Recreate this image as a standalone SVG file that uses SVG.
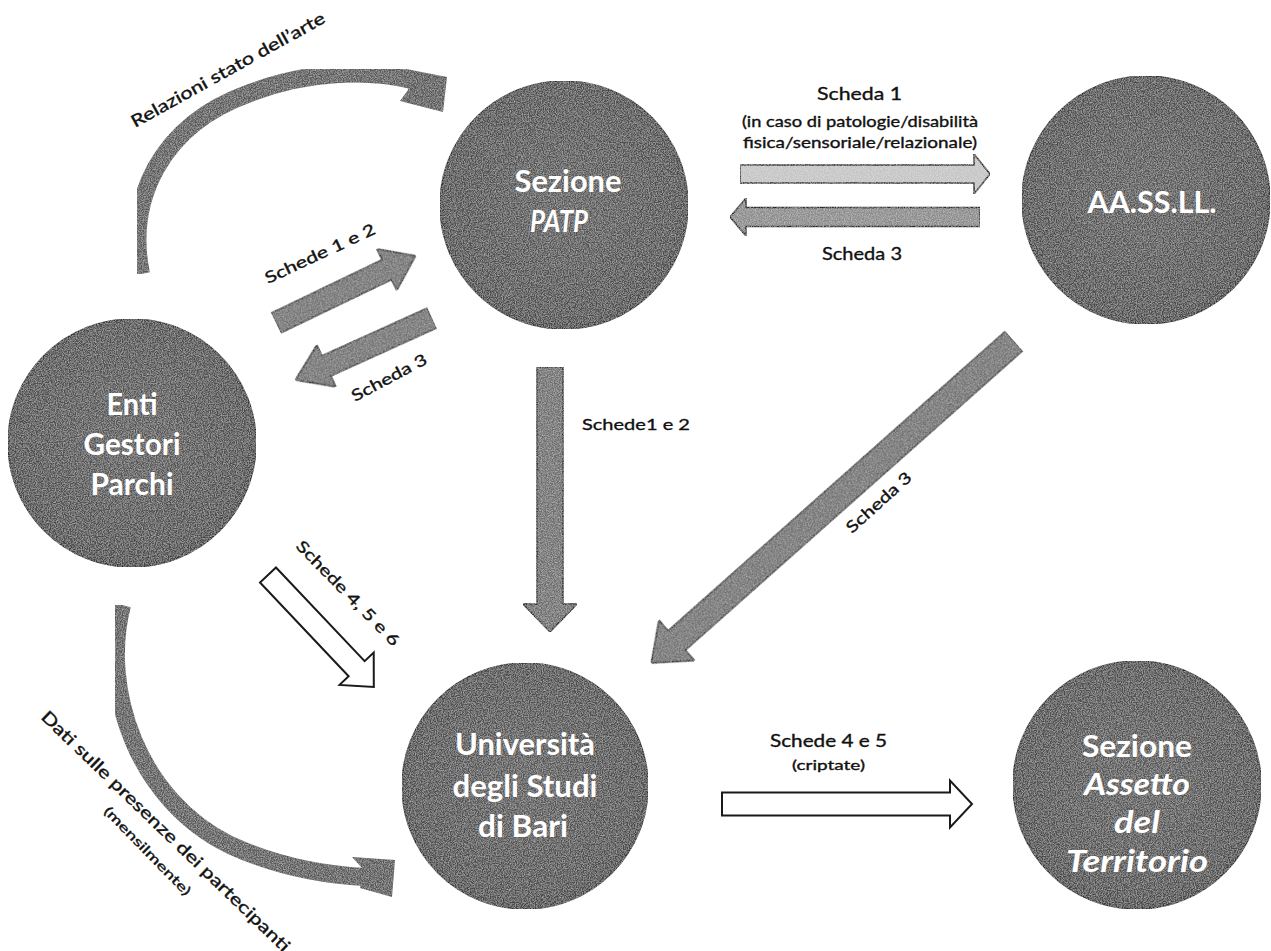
<svg xmlns="http://www.w3.org/2000/svg" width="1271" height="951" viewBox="0 0 1271 951">
<style>
.lbl{font-family:Lato,"Liberation Sans",sans-serif;fill:#111;stroke:#111;stroke-width:0.35;}
.node-txt{font-family:Lato,"Liberation Sans",sans-serif;font-weight:bold;fill:#fff;font-size:31px;text-anchor:middle;}
.it{font-style:italic;}
.circ{fill:url(#cg);stroke:#333;stroke-width:1.5;}
.dark{fill:#6d6d6d;stroke:#2a2a2a;stroke-width:1.6;}
.mid{fill:#8a8a8a;stroke:#2a2a2a;stroke-width:1.6;}
.light{fill:#c4c4c4;stroke:#2a2a2a;stroke-width:1.6;}
.white{fill:#fff;stroke:#1a1a1a;stroke-width:2;}
.cshaft{fill:none;stroke:#585858;stroke-width:18;}
.chead{fill:#555;}
</style>
<defs>
<radialGradient id="cg" cx="50%" cy="48%" r="55%">
<stop offset="0" stop-color="#585858"/>
<stop offset="0.85" stop-color="#4c4c4c"/>
<stop offset="1" stop-color="#3c3c3c"/>
</radialGradient>
<filter id="grain" x="0" y="0" width="100%" height="100%">
<feTurbulence type="fractalNoise" baseFrequency="0.85" numOctaves="2" seed="4" result="n"/>
<feColorMatrix in="n" type="matrix" values="0 0 0 0 1 0 0 0 0 1 0 0 0 0 1 0.7 0 0 0 -0.25" result="s"/>
<feComposite in="s" in2="SourceGraphic" operator="in" result="s2"/>
<feMerge><feMergeNode in="SourceGraphic"/><feMergeNode in="s2"/></feMerge>
</filter>
</defs>
<rect width="1271" height="951" fill="#fff"/>

<g id="connectors">
<g filter="url(#grain)">
<path class="cshaft" d="M141,274 C126,200 160,125 250,93 C310,70 370,70 412,80"/>
<polygon class="chead" points="406,69 447,77 443,112 400,101 408,90"/>
</g>
<g filter="url(#grain)">
<path class="cshaft" d="M122,605 C100,690 138,800 230,845 C280,868 325,875 365,877"/>
<polygon class="chead" points="352,857 395,860 392,897 360,888 362,868"/>
</g>
<g transform="translate(276,323) rotate(-25.7)"><polygon class="dark" filter="url(#grain)" points="0,-11 123,-11 123,-23 155,0 123,23 123,11 0,11"/></g>
<g transform="translate(432,318) rotate(155.6)"><polygon class="dark" filter="url(#grain)" points="0,-11 116,-11 116,-23 150,0 116,23 116,11 0,11"/></g>
<g transform="translate(550,367) rotate(90)"><polygon class="dark" filter="url(#grain)" points="0,-13 237,-13 237,-27 265,0 237,27 237,13 0,13"/></g>
<g transform="translate(1014,341) rotate(138.4)"><polygon class="dark" filter="url(#grain)" points="0,-13 451,-13 451,-27 485,0 451,27 451,13 0,13"/></g>
<g transform="translate(740,174)"><polygon class="light" filter="url(#grain)" points="0,-9 234,-9 234,-20 250,0 234,20 234,9 0,9"/></g>
<g transform="translate(980,217) rotate(180)"><polygon class="mid" filter="url(#grain)" points="0,-9.5 234,-9.5 234,-19 250,0 234,19 234,9.5 0,9.5"/></g>
<g transform="translate(268,575) rotate(46.6)"><polygon class="white" points="0,-11 129,-11 129,-23.5 154,0 129,23.5 129,11 0,11"/></g>
<g transform="translate(722,804)"><polygon class="white" points="0,-11.5 228,-11.5 228,-23.5 250,0 228,23.5 228,11.5 0,11.5"/></g>

<text class="lbl" font-size="17" transform="translate(135,128) rotate(-29)" textLength="219" lengthAdjust="spacingAndGlyphs">Relazioni stato dell’arte</text>
<text class="lbl" font-size="16" transform="translate(268,284) rotate(-25)" textLength="120" lengthAdjust="spacingAndGlyphs">Schede 1 e 2</text>
<text class="lbl" font-size="16" transform="translate(355,402) rotate(-28)" textLength="83" lengthAdjust="spacingAndGlyphs">Scheda 3</text>
<text class="lbl" font-size="16" x="582" y="430" textLength="108" lengthAdjust="spacingAndGlyphs">Schede1 e 2</text>
<text class="lbl" font-size="16" transform="translate(852,534) rotate(-42)" textLength="82" lengthAdjust="spacingAndGlyphs">Scheda 3</text>
<text class="lbl" font-size="18" x="817" y="100" textLength="85" lengthAdjust="spacingAndGlyphs">Scheda 1</text>
<text class="lbl" font-size="15" x="742" y="127" textLength="236" lengthAdjust="spacingAndGlyphs">(in caso di patologie/disabilità</text>
<text class="lbl" font-size="15" x="743" y="148" textLength="234" lengthAdjust="spacingAndGlyphs">fisica/sensoriale/relazionale)</text>
<text class="lbl" font-size="17" x="822" y="260" textLength="80" lengthAdjust="spacingAndGlyphs">Scheda 3</text>
<text class="lbl" font-size="16" transform="translate(295,547) rotate(45.6)" textLength="140" lengthAdjust="spacingAndGlyphs">Schede 4, 5 e 6</text>
<text class="lbl" font-size="17" x="770" y="747" textLength="117" lengthAdjust="spacingAndGlyphs">Schede 4 e 5</text>
<text class="lbl" font-size="14" x="792" y="770" textLength="73" lengthAdjust="spacingAndGlyphs">(criptate)</text>
<text class="lbl" font-size="17" transform="translate(40,718) rotate(44)" textLength="338" lengthAdjust="spacingAndGlyphs">Dati sulle presenze dei partecipanti</text>
<text class="lbl" font-size="13" transform="translate(103,812) rotate(45.7)" textLength="118" lengthAdjust="spacingAndGlyphs">(mensilmente)</text>
</g>

<g id="node-patp">
<circle class="circ" filter="url(#grain)" cx="564" cy="205" r="124"/>
<text class="node-txt" x="568" y="192" textLength="107" lengthAdjust="spacingAndGlyphs">Sezione</text>
<text class="node-txt it" x="559" y="232" textLength="58" lengthAdjust="spacingAndGlyphs">PATP</text>
</g>
<g id="node-asl">
<circle class="circ" filter="url(#grain)" cx="1146" cy="200" r="124"/>
<text class="node-txt" x="1152" y="213" textLength="129" lengthAdjust="spacingAndGlyphs">AA.SS.LL.</text>
</g>
<g id="node-enti">
<circle class="circ" filter="url(#grain)" cx="132" cy="443" r="124"/>
<text class="node-txt" x="132" y="415" textLength="51" lengthAdjust="spacingAndGlyphs">Enti</text>
<text class="node-txt" x="132" y="455" textLength="97" lengthAdjust="spacingAndGlyphs">Gestori</text>
<text class="node-txt" x="132" y="495" textLength="83" lengthAdjust="spacingAndGlyphs">Parchi</text>
</g>
<g id="node-uniba">
<circle class="circ" filter="url(#grain)" cx="525" cy="786" r="123"/>
<text class="node-txt" x="525" y="755" textLength="140" lengthAdjust="spacingAndGlyphs">Università</text>
<text class="node-txt" x="525" y="797" textLength="145" lengthAdjust="spacingAndGlyphs">degli Studi</text>
<text class="node-txt" x="523" y="837" textLength="90" lengthAdjust="spacingAndGlyphs">di Bari</text>
</g>
<g id="node-assetto">
<circle class="circ" filter="url(#grain)" cx="1137" cy="785" r="124"/>
<text class="node-txt" x="1137" y="757" textLength="110" lengthAdjust="spacingAndGlyphs">Sezione</text>
<text class="node-txt it" x="1137" y="795" textLength="106" lengthAdjust="spacingAndGlyphs">Assetto</text>
<text class="node-txt it" x="1137" y="833" textLength="46" lengthAdjust="spacingAndGlyphs">del</text>
<text class="node-txt it" x="1137" y="872" textLength="142" lengthAdjust="spacingAndGlyphs">Territorio</text>
</g>
</svg>
